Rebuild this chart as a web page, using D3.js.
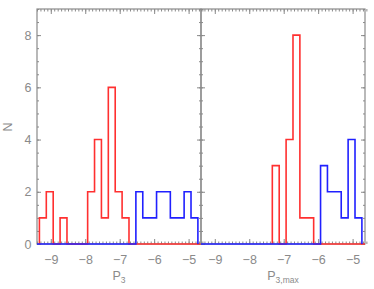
<!DOCTYPE html>
<html>
<head>
<meta charset="utf-8">
<script src="https://cdn.jsdelivr.net/npm/d3@7/dist/d3.min.js"></script>
<style>
  html, body { margin: 0; padding: 0; background: #fff; }
  svg { display: block; }
  text { font-family: "Liberation Sans", Arial, sans-serif; fill: #8a8a8a; }
</style>
</head>
<body>
<svg id="chart" width="374" height="289"></svg>
<script>
// ---- data ----
const binStart = -9.33;
const binWidth = 0.2;
// counts per bin, bins start at binStart and step by binWidth (23 bins)
const p3Red    = [1,2,0,1,0,0,0,2,4,1,6,2,1,0,0,0,0,0,0,0,0,0,0];
const p3Blue   = [0,0,0,0,0,0,0,0,0,0,0,0,0,0,2,1,1,2,2,1,1,2,1];
const p3maxRed = [0,0,0,0,0,0,0,0,0,0,3,0,4,8,1,1,0,0,0,0,0,0,0];
const p3maxBlue= [0,0,0,0,0,0,0,0,0,0,0,0,0,0,0,0,0,3,2,2,1,4,1];
const xTicks = [-9,-8,-7,-6,-5];
const yTicks = [0,2,4,6,8];
const xDomain = [-9.4, -4.64];
const yDomain = [0, 9];
const panels = [
  {label: "P", sub: "3", red: p3Red, blue: p3Blue},
  {label: "P", sub: "3,max", red: p3maxRed, blue: p3maxBlue}
];

// ---- layout ----
const svg = d3.select("#chart");
const plotTop = 9, plotBottom = 244;
const panelX = [[37, 201], [201, 365]];
const axisColor = "#8a8a8a";
const red = "#ff3030", blue = "#2020ff";
const fmt = d3.format("d");

const y = d3.scaleLinear().domain(yDomain).range([plotBottom, plotTop]);
const minorX = d3.range(-9.4, -4.6, 0.1).map(v => +v.toFixed(1));
const minorY = d3.range(0, 9.01, 0.5);

function stepPath(x, counts, startIdx, endIdx, extendLeft, extendRight) {
  const pts = [];
  const e = i => binStart + i * binWidth;
  if (extendLeft) pts.push([xDomain[0], 0]);
  pts.push([e(startIdx), 0]);
  for (let i = startIdx; i <= endIdx; i++) {
    pts.push([e(i), counts[i]]);
    pts.push([e(i + 1), counts[i]]);
  }
  pts.push([e(endIdx + 1), 0]);
  if (extendRight) pts.push([xDomain[1], 0]);
  return d3.line().x(d => x(d[0])).y(d => y(d[1]))(pts);
}

panels.forEach((p, pi) => {
  const [x0, x1] = panelX[pi];
  const x = d3.scaleLinear().domain(xDomain).range([x0, x1]);
  const g = svg.append("g");

  const clipId = "clip" + pi;
  svg.append("clipPath").attr("id", clipId)
    .append("rect").attr("x", x0).attr("y", plotTop - 2).attr("width", x1 - x0).attr("height", plotBottom - plotTop + 4);

  // bottom
  g.append("g").attr("transform", `translate(0,${plotBottom})`)
    .call(d3.axisBottom(x).tickValues(minorX).tickSize(-2.5).tickFormat(""))
    .call(a => a.select(".domain").remove());
  g.append("g").attr("transform", `translate(0,${plotBottom})`)
    .call(d3.axisBottom(x).tickValues(xTicks).tickSize(-5).tickPadding(11).tickFormat(fmt))
    .call(a => a.select(".domain").remove())
    .call(a => a.selectAll("text").attr("font-size", 12.5).attr("fill", axisColor));
  // top
  g.append("g").attr("transform", `translate(0,${plotTop})`)
    .call(d3.axisTop(x).tickValues(minorX).tickSize(-2.5).tickFormat(""))
    .call(a => a.select(".domain").remove());
  g.append("g").attr("transform", `translate(0,${plotTop})`)
    .call(d3.axisTop(x).tickValues(xTicks).tickSize(-5).tickFormat(""))
    .call(a => a.select(".domain").remove());
  // left
  g.append("g").attr("transform", `translate(${x0},0)`)
    .call(d3.axisLeft(y).tickValues(minorY).tickSize(-2).tickFormat(""))
    .call(a => a.select(".domain").remove());
  const yl = d3.axisLeft(y).tickValues(yTicks).tickSize(-4).tickPadding(5.5).tickFormat(pi > 0 ? "" : fmt);
  g.append("g").attr("transform", `translate(${x0},0)`)
    .call(yl)
    .call(a => a.select(".domain").remove())
    .call(a => a.selectAll("text").attr("font-size", 12.5).attr("fill", axisColor));
  // right
  g.append("g").attr("transform", `translate(${x1},0)`)
    .call(d3.axisRight(y).tickValues(minorY).tickSize(-2).tickFormat(""))
    .call(a => a.select(".domain").remove());
  g.append("g").attr("transform", `translate(${x1},0)`)
    .call(d3.axisRight(y).tickValues(yTicks).tickSize(-4).tickFormat(""))
    .call(a => a.select(".domain").remove());

  g.selectAll(".tick line").attr("stroke", axisColor).attr("stroke-width", 1);

  // frame
  g.append("rect").attr("x", x0).attr("y", plotTop).attr("width", x1 - x0).attr("height", plotBottom - plotTop)
    .attr("fill", "none").attr("stroke", axisColor).attr("stroke-width", 1.2);

  // histograms
  const nz = arr => arr.map((v, i) => v > 0 ? i : -1).filter(i => i >= 0);
  const rIdx = nz(p.red), bIdx = nz(p.blue);
  const hg = g.append("g").attr("clip-path", `url(#${clipId})`);
  hg.append("path")
    .attr("d", stepPath(x, p.red, rIdx[0], rIdx[rIdx.length - 1], false, true))
    .attr("fill", "none").attr("stroke", red).attr("stroke-width", 1.6);
  hg.append("path")
    .attr("d", stepPath(x, p.blue, bIdx[0], bIdx[bIdx.length - 1], true, false))
    .attr("fill", "none").attr("stroke", blue).attr("stroke-width", 1.6);

  // x label
  const lab = svg.append("text").attr("x", (x0 + x1) / 2).attr("y", 279.5)
    .attr("text-anchor", "middle").attr("font-size", 12.5);
  lab.append("tspan").text(p.label);
  lab.append("tspan").attr("font-size", 8.5).attr("dy", 3.5).text(p.sub);
});

// y label
svg.append("text").attr("transform", "translate(12,127) rotate(-90)")
  .attr("text-anchor", "middle").attr("font-size", 12.5).text("N");
</script>
</body>
</html>
